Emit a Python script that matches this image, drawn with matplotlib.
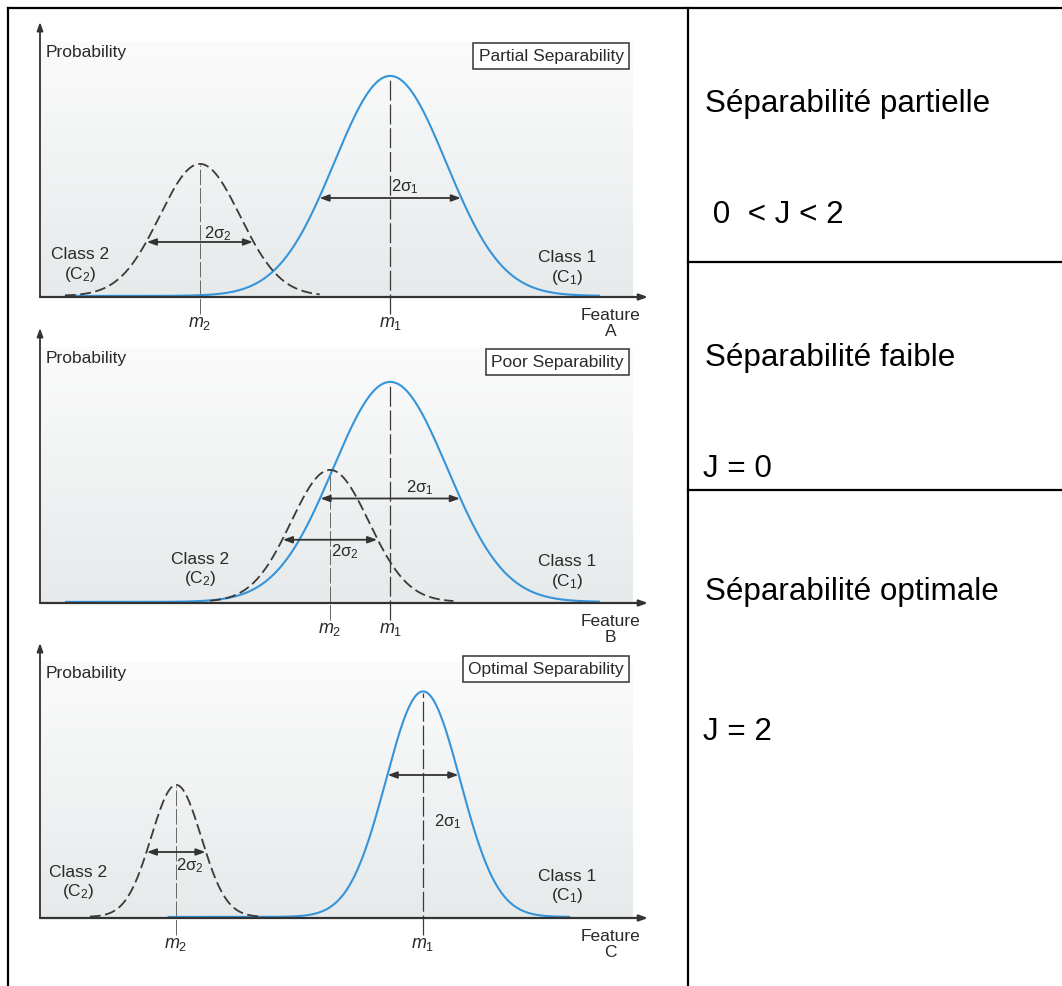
import numpy as np
import matplotlib
matplotlib.use("Agg")
import matplotlib.pyplot as plt
from matplotlib.lines import Line2D
from matplotlib.colors import LinearSegmentedColormap

plt.rcParams['font.family'] = ['Liberation Sans', 'DejaVu Sans']
plt.rcParams['mathtext.fontset'] = 'custom'
plt.rcParams['mathtext.rm'] = 'Liberation Sans'
plt.rcParams['mathtext.it'] = 'Liberation Sans:italic'

# ---------------- data (feature units 0..10, probability 0..1) ----------------
panel_titles = ["Partial Separability", "Poor Separability", "Optimal Separability"]
feature_letters = ["A", "B", "C"]
# Class 1 (blue, solid)
c1_mean = [5.76, 5.76, 6.30]
c1_sigma = [0.92, 0.94, 0.61]
c1_peak = [0.80, 0.80, 0.82]
c1_range = [(0.41, 9.21), (0.41, 9.21), (2.10, 8.72)]
c1_arrow_y = [0.36, 0.38, 0.52]
# Class 2 (black, dashed)
c2_mean = [2.63, 4.77, 2.24]
c2_sigma = [0.66, 0.64, 0.41]
c2_peak = [0.48, 0.48, 0.48]
c2_range = [(0.41, 4.60), (2.80, 6.80), (0.82, 3.62)]
c2_arrow_y = [0.20, 0.23, 0.24]
# label positions (feature units)
c2_label_xy = [(0.66, 0.116), (2.63, 0.12), (0.63, 0.127)]
c1_label_xy = [(8.67, 0.105), (8.67, 0.11), (8.67, 0.113)]
s1_label_xy = [(6.00, 0.40), (6.25, 0.42), (6.71, 0.35)]
s2_label_xy = [(2.93, 0.23), (5.02, 0.185), (2.47, 0.19)]

right_titles = ["Séparabilité partielle", "Séparabilité faible", "Séparabilité optimale"]
right_values = [" 0  < J < 2", "J = 0", "J = 2"]

# ---------------- figure ----------------
W, H = 1062, 986
fig = plt.figure(figsize=(W / 100, H / 100), dpi=100)
fig.patch.set_facecolor("white")


def fx(px):
    return px / W


def fy(py):
    return 1 - py / H


# table lines
lw_tab = 1.6
for (x0, y0, x1, y1) in [(8, 8, 1062, 8), (8, 8, 8, 986), (688, 8, 688, 986),
                         (688, 262, 1062, 262), (688, 490, 1062, 490)]:
    fig.add_artist(Line2D([fx(x0), fx(x1)], [fy(y0), fy(y1)], color="black",
                          lw=lw_tab, transform=fig.transFigure, solid_capstyle="projecting"))

# right column texts
title_base = [112, 366, 600]
value_base = [223, 477, 740]
value_x = [704, 703, 703]
for i in range(3):
    fig.text(fx(705), fy(title_base[i]), right_titles[i], fontsize=22.6,
             va="baseline", ha="left", color="black")
    fig.text(fx(value_x[i]), fy(value_base[i]), right_values[i], fontsize=22.6,
             va="baseline", ha="left", color="black")

# panels
ax_left, ax_right = 40, 648
panel_h = 275
below = 50
baselines = [297, 603, 918]
blue = "#3594da"
dark = "#333333"
txt_col = "#2a2a2a"

grad = np.linspace(0, 1, 256).reshape(-1, 1)
cmap = LinearSegmentedColormap.from_list("bg", ["#e6eaeb", "#fbfbfb"])

for i in range(3):
    base = baselines[i]
    ax = fig.add_axes([fx(ax_left), fy(base + below), fx(ax_right) - fx(ax_left),
                       (panel_h + below) / H])
    ax.set_xlim(0, 10)
    ax.set_ylim(-below / panel_h, 1.0)
    ax.axis("off")

    # background gradient
    ax.imshow(grad, extent=(0, 9.75, 0, 0.93), origin="lower", cmap=cmap,
              aspect="auto", zorder=0)

    # axes arrows
    ax.annotate("", xy=(0, 1.0), xytext=(0, 0),
                arrowprops=dict(arrowstyle="-|>,head_length=0.5,head_width=0.18",
                                color=dark, lw=1.3, shrinkA=0, shrinkB=0), zorder=5)
    ax.annotate("", xy=(10, 0), xytext=(0, 0),
                arrowprops=dict(arrowstyle="-|>,head_length=0.5,head_width=0.18",
                                color=dark, lw=1.6, shrinkA=0, shrinkB=0), zorder=5)

    # curves
    x1 = np.linspace(c1_range[i][0], c1_range[i][1], 600)
    y1 = c1_peak[i] * np.exp(-0.5 * ((x1 - c1_mean[i]) / c1_sigma[i]) ** 2)
    x2 = np.linspace(c2_range[i][0], c2_range[i][1], 600)
    y2 = c2_peak[i] * np.exp(-0.5 * ((x2 - c2_mean[i]) / c2_sigma[i]) ** 2)
    ax.plot(x1, y1 + 0.004, color=blue, lw=1.5, zorder=3, solid_capstyle="butt")
    ax.plot(x2, y2 + 0.004, color="#3a3a3a", lw=1.3, ls=(0, (6, 2.5)), zorder=3)

    # mean lines
    ax.plot([c1_mean[i], c1_mean[i]], [-0.06, c1_peak[i]], color="#3a3a3a", lw=0.9,
            ls=(0, (16, 3)), zorder=2)
    ax.plot([c2_mean[i], c2_mean[i]], [-0.06, c2_peak[i]], color="#666666", lw=0.7,
            ls=(0, (16, 3)), zorder=2)

    # 2 sigma arrows (end where the curves cross the level)
    for mean, sig, peak, ay in [(c1_mean[i], c1_sigma[i], c1_peak[i], c1_arrow_y[i]),
                                (c2_mean[i], c2_sigma[i], c2_peak[i], c2_arrow_y[i])]:
        d = sig * np.sqrt(-2 * np.log(ay / peak))
        ax.annotate("", xy=(mean + d, ay), xytext=(mean - d, ay),
                    arrowprops=dict(arrowstyle="<|-|>,head_length=0.55,head_width=0.2",
                                    color=dark, lw=1.3, shrinkA=0, shrinkB=0), zorder=4)

    fs = 12.5
    ax.text(s1_label_xy[i][0], s1_label_xy[i][1], "2σ$_1$", fontsize=fs - 0.5,
            ha="center", va="center", color=txt_col, zorder=6)
    ax.text(s2_label_xy[i][0], s2_label_xy[i][1], "2σ$_2$", fontsize=fs - 0.5,
            ha="center", va="center", color=txt_col, zorder=6)

    ax.text(0.09, 0.89, "Probability", fontsize=fs, ha="left", va="center", color=txt_col)
    ax.text(9.6, 0.876 if i < 2 else 0.905, panel_titles[i], fontsize=fs, ha="right",
            va="center", color=txt_col,
            bbox=dict(boxstyle="square,pad=0.3", fc="white", ec=dark, lw=1.1))

    ax.text(c2_label_xy[i][0], c2_label_xy[i][1], "Class 2\n(C$_2$)", fontsize=fs,
            ha="center", va="center", color=txt_col, linespacing=1.2)
    ax.text(c1_label_xy[i][0], c1_label_xy[i][1], "Class 1\n(C$_1$)", fontsize=fs,
            ha="center", va="center", color=txt_col, linespacing=1.2)

    ax.text(c1_mean[i], -0.095, "$m_1$", fontsize=fs + 0.5, ha="center", va="center", color=txt_col)
    ax.text(c2_mean[i], -0.095, "$m_2$", fontsize=fs + 0.5, ha="center", va="center", color=txt_col)
    ax.text(9.38, -0.095, "Feature\n" + feature_letters[i], fontsize=fs, ha="center",
            va="center", color=txt_col, linespacing=1.1)

fig.savefig("out.png", dpi=100, facecolor="white")
